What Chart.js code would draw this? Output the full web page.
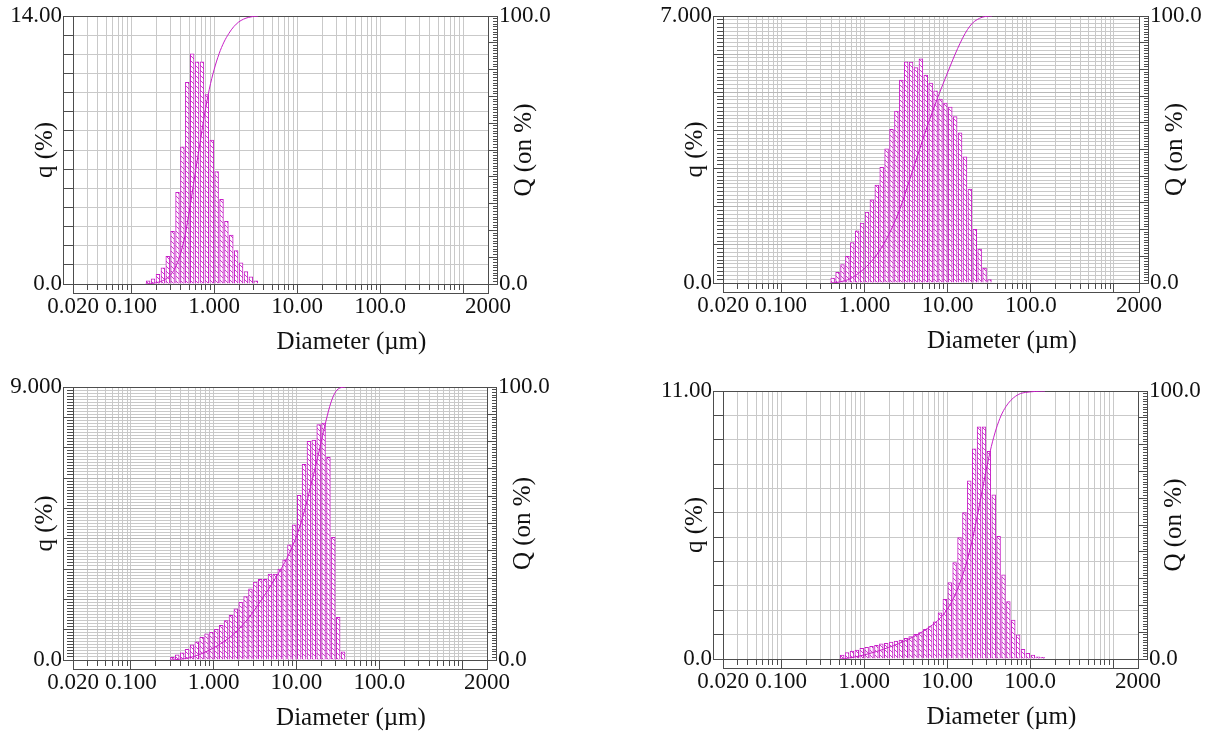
<!DOCTYPE html>
<html>
<head>
<meta charset="utf-8">
<title>Particle size distribution</title>
<script src="https://cdn.jsdelivr.net/npm/chart.js@4.4.1/dist/chart.umd.min.js"></script>
<style>
    html, body { margin: 0; padding: 0; background: #fff; overflow: hidden; }
    body { width: 1214px; height: 731px; position: relative; }
    canvas { position: absolute; }
</style>
</head>
<body>
<canvas id="psd1" width="564" height="365" style="left:0;top:0"></canvas>
<canvas id="psd2" width="564" height="365" style="left:650px;top:0"></canvas>
<canvas id="psd3" width="564" height="360" style="left:0;top:371px"></canvas>
<canvas id="psd4" width="564" height="356" style="left:650px;top:375px"></canvas>
<script>
// Size classes (lower channel edges, µm)
const channels = [
    0.100, 0.115, 0.131, 0.150, 0.172, 0.197, 0.226, 0.259, 0.296, 0.339,
    0.389, 0.445, 0.510, 0.584, 0.669, 0.766, 0.877, 1.005, 1.151, 1.318,
    1.510, 1.729, 1.980, 2.268, 2.597, 2.974, 3.406, 3.900, 4.467, 5.115,
    5.858, 6.709, 7.683, 8.799, 10.08, 11.54, 13.21, 15.13, 17.33, 19.85,
    22.73, 26.03, 29.81, 34.14, 39.10, 44.77, 51.28, 58.72, 67.25, 77.01,
    88.19, 101.0, 115.6, 132.4, 151.7, 173.7, 198.9
];

// q (%) per channel, starting at the given channel edge
const from1 = 0.150;
const q1 = [0.16, 0.27, 0.50, 0.84, 1.45, 2.75, 4.79, 7.17, 10.54, 12.02, 11.60, 11.60,
            9.90, 7.52, 5.87, 4.42, 3.27, 2.55, 1.75, 1.10, 0.65, 0.38, 0.16];

const from2 = 0.389;
const q2 = [0.13, 0.28, 0.48, 0.70, 1.06, 1.37, 1.57, 1.86, 2.18, 2.57, 3.03, 3.52,
            4.03, 4.51, 5.32, 5.80, 5.79, 5.65, 5.88, 5.45, 5.24, 5.04, 4.82, 4.72,
            4.61, 4.36, 3.94, 3.31, 2.46, 1.41, 0.89, 0.39, 0.09];

const from3 = 0.296;
const q3 = [0.09, 0.17, 0.24, 0.35, 0.50, 0.60, 0.75, 0.86, 0.91, 1.01, 1.14, 1.30,
            1.47, 1.69, 1.90, 2.09, 2.35, 2.57, 2.66, 2.66, 2.83, 2.83, 3.00, 3.30,
            3.80, 4.46, 5.43, 6.45, 7.21, 7.25, 7.76, 7.81, 6.68, 4.04, 1.41, 0.27];

const from4 = 0.510;
const q4 = [0.16, 0.26, 0.33, 0.37, 0.44, 0.48, 0.52, 0.56, 0.62, 0.64, 0.69, 0.74,
            0.78, 0.85, 0.92, 1.01, 1.08, 1.22, 1.33, 1.53, 1.90, 2.45, 3.14, 3.96,
            4.98, 6.01, 7.31, 8.63, 9.53, 9.53, 8.52, 6.74, 5.03, 3.45, 2.36, 1.60,
            0.99, 0.40, 0.23, 0.16, 0.09, 0.07];

// Axis labels
const xMajor = [0.02, 0.1, 1, 10, 100, 2000];
const xLabels = ['0.020', '0.100', '1.000', '10.00', '100.0', '2000'];
const yMaxes = [14, 7, 9, 11];
const yTopLabels = ['14.00', '7.000', '9.000', '11.00'];
const yGridSteps = [1, 0.1, 0.1, 1];

const MAGENTA = '#c71fc7';
const HATCH = '#cc3acc';
const FRAME = '#4d4d4d';
const GRID = '#c9c9c9';
const FONT = '"Liberation Serif", "Times New Roman", serif';

// log grid: 1..9 x every decade, inside 0.02 - 2000
const xGrid = [];
for (let e = -2; e <= 3; e++) {
    for (let m = 1; m <= 9; m++) {
        const v = parseFloat((m * Math.pow(10, e)).toPrecision(2));
        if (v >= 0.02 && v <= 2000) xGrid.push(v);
    }
}

function stepsTo(max, step) {
    const out = [];
    const n = Math.round(max / step);
    for (let i = 0; i <= n; i++) out.push(Math.round(i * step * 1000) / 1000);
    return out;
}

// white cell with a "\" hatch line
function hatchPattern(color) {
    const c = document.createElement('canvas');
    c.width = 5;
    c.height = 5;
    const g = c.getContext('2d');
    g.fillStyle = '#fff';
    g.fillRect(0, 0, 5, 5);
    g.strokeStyle = color;
    g.lineWidth = 1;
    g.beginPath();
    g.moveTo(-1, -1);
    g.lineTo(6, 6);
    g.stroke();
    return g.createPattern(c, 'repeat');
}

// outer axis lines + axis titles
const panelDecor = {
    id: 'panelDecor',
    afterDraw(chart) {
        const { ctx, chartArea: a } = chart;
        ctx.save();
        ctx.strokeStyle = FRAME;
        ctx.lineWidth = 1;
        ctx.beginPath();
        ctx.moveTo(Math.round(a.left) - 9.5, a.top);
        ctx.lineTo(Math.round(a.left) - 9.5, a.bottom);
        ctx.moveTo(a.left, Math.round(a.bottom) + 9.5);
        ctx.lineTo(a.right, Math.round(a.bottom) + 9.5);
        ctx.moveTo(Math.round(a.right) + 9.5, a.top);
        ctx.lineTo(Math.round(a.right) + 9.5, a.bottom);
        ctx.stroke();

        ctx.fillStyle = '#111';
        ctx.font = '25px ' + FONT;
        ctx.textAlign = 'center';
        ctx.textBaseline = 'middle';
        const midY = (a.top + a.bottom) / 2;

        ctx.save();
        ctx.translate(a.left - 28, midY);
        ctx.rotate(-Math.PI / 2);
        ctx.fillText('q (%)', 0, 0);
        ctx.restore();

        ctx.save();
        ctx.translate(a.right + 36, midY);
        ctx.rotate(-Math.PI / 2);
        ctx.fillText('Q (on %)', 0, 0);
        ctx.restore();

        ctx.fillText('Diameter (\u00b5m)', (a.left + a.right) / 2 + 71, a.bottom + 58);
        ctx.restore();
    }
};

function buildChart(canvasId, from, q, panel, area) {
    const canvas = document.getElementById(canvasId);
    const first = channels.indexOf(from);
    const total = q.reduce((s, v) => s + v, 0);
    const yMax = yMaxes[panel];
    const yStep = yGridSteps[panel];

    // bars sit between channel edges (geometric centre on the log axis)
    const bars = q.map((v, i) => ({
        x: Math.sqrt(channels[first + i] * channels[first + i + 1]),
        y: v
    }));

    // cumulative undersize at the upper edge of each channel
    let running = 0;
    const cumulative = [{ x: channels[first], y: 0 }];
    q.forEach((v, i) => {
        running += v;
        cumulative.push({ x: channels[first + i + 1], y: 100 * running / total });
    });

    const tickFont = { family: FONT, size: 23, lineHeight: 1 };

    return new Chart(canvas, {
        type: 'bar',
        data: {
            datasets: [
                {
                    type: 'line',
                    data: cumulative,
                    yAxisID: 'yQ',
                    borderColor: MAGENTA,
                    borderWidth: 1,
                    pointRadius: 0,
                    cubicInterpolationMode: 'monotone',
                    order: 0
                },
                {
                    type: 'bar',
                    data: bars,
                    yAxisID: 'y',
                    backgroundColor: hatchPattern(HATCH),
                    borderColor: MAGENTA,
                    borderWidth: 1,
                    barPercentage: 1,
                    categoryPercentage: 1,
                    order: 1
                }
            ]
        },
        options: {
            responsive: false,
            animation: false,
            events: [],
            layout: { padding: { top: area.top, left: 0, right: 0, bottom: 0 } },
            plugins: {
                legend: { display: false },
                tooltip: { enabled: false }
            },
            scales: {
                x: {
                    type: 'logarithmic',
                    min: 0.02,
                    max: 2000,
                    offset: false,
                    afterBuildTicks: s => { s.ticks = xGrid.map(v => ({ value: v })); },
                    afterFit: s => { s.height = canvas.height - area.bottom; },
                    ticks: {
                        autoSkip: false,
                        maxRotation: 0,
                        padding: 1,
                        color: '#111',
                        font: tickFont,
                        callback: v => {
                            const i = xMajor.indexOf(v);
                            return i >= 0 ? xLabels[i] : '';
                        }
                    },
                    grid: {
                        offset: false,
                        color: GRID,
                        tickColor: FRAME,
                        tickLength: 10,
                        tickBorderDash: ctx => {
                            const v = ctx.tick ? ctx.tick.value : 0;
                            const decade = Math.abs(Math.log10(v) - Math.round(Math.log10(v))) < 1e-9;
                            return (decade || v === 0.02 || v === 2000) ? [] : [5, 20];
                        }
                    },
                    border: { color: FRAME, width: 1 }
                },
                y: {
                    position: 'left',
                    min: 0,
                    max: yMax,
                    afterBuildTicks: s => { s.ticks = stepsTo(yMax, yStep).map(v => ({ value: v })); },
                    afterFit: s => { s.width = area.left; },
                    ticks: {
                        autoSkip: false,
                        padding: 1,
                        color: '#111',
                        font: tickFont,
                        callback: v => (v === yMax ? yTopLabels[panel] : v === 0 ? '0.0' : '')
                    },
                    grid: {
                        color: ctx => {
                            const v = ctx.tick ? ctx.tick.value : 0;
                            if (v === yMax) return FRAME;
                            return (yStep < 1 && Math.abs(v - Math.round(v)) < 1e-6) ? '#b8b8b8' : GRID;
                        },
                        tickColor: FRAME,
                        tickLength: 10,
                        tickBorderDash: ctx => {
                            const v = ctx.tick ? ctx.tick.value : 0;
                            return Math.abs(v - Math.round(v)) < 1e-6 ? [] : [0, 4, 6, 20];
                        }
                    },
                    border: { color: FRAME, width: 1 }
                },
                yQ: {
                    position: 'right',
                    min: 0,
                    max: 100,
                    afterBuildTicks: s => { s.ticks = stepsTo(100, 1).map(v => ({ value: v })); },
                    afterFit: s => { s.width = canvas.width - area.right; },
                    ticks: {
                        autoSkip: false,
                        padding: 1,
                        color: '#111',
                        font: tickFont,
                        callback: v => (v === 100 ? '100.0' : v === 0 ? '0.0' : '')
                    },
                    grid: {
                        drawOnChartArea: false,
                        tickColor: FRAME,
                        tickLength: 10,
                        tickBorderDash: ctx => {
                            const v = ctx.tick ? ctx.tick.value : 0;
                            return v % 10 === 0 ? [] : [0, 4, 6, 20];
                        }
                    },
                    border: { color: FRAME, width: 1 }
                }
            }
        },
        plugins: [panelDecor]
    });
}

buildChart('psd1', from1, q1, 0, { left: 73, top: 16, right: 488, bottom: 284 });
buildChart('psd2', from2, q2, 1, { left: 73, top: 16, right: 489, bottom: 283 });
buildChart('psd3', from3, q3, 2, { left: 73, top: 16, right: 487, bottom: 289 });
buildChart('psd4', from4, q4, 3, { left: 73, top: 16, right: 488, bottom: 284 });
</script>
</body>
</html>
